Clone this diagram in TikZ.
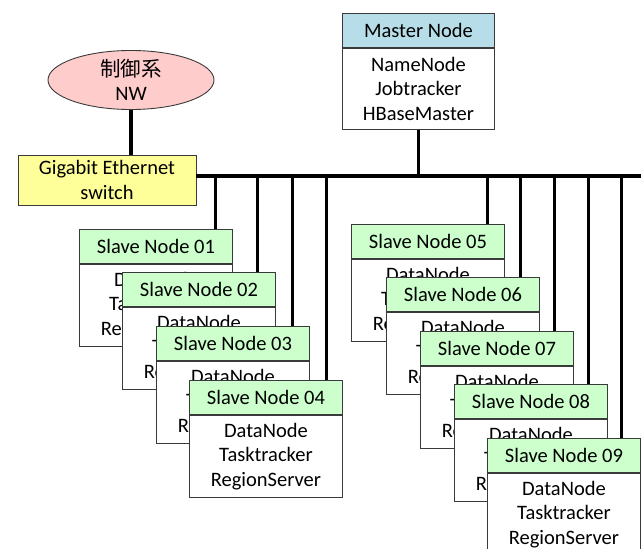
\documentclass[tikz,border=0pt]{standalone}
\usepackage{fontspec}
\setmainfont{Carlito}
\newfontfamily\cjk{Noto Sans CJK JP}
\usetikzlibrary{shapes.geometric}
\definecolor{hdrgreen}{HTML}{CCFFCC}
\definecolor{hdrblue}{HTML}{B7DEE8}
\definecolor{swyellow}{HTML}{FFFF99}
\definecolor{nwpink}{HTML}{FFCCCC}
\definecolor{edgegray}{HTML}{3A3A3A}
\tikzset{
  txt/.style={font=\fontsize{20.5}{24.5}\selectfont},
  boxline/.style={draw=edgegray, line width=0.9pt},
  hdr/.style={txt, boxline, rectangle, minimum width=153pt, minimum height=34pt, inner sep=0pt, anchor=north west},
  slavehdr/.style={hdr, fill=hdrgreen},
  masterhdr/.style={hdr, fill=hdrblue, minimum width=152pt},
  bodybox/.style={txt, boxline, fill=white, rectangle, minimum width=153pt, minimum height=82pt, inner sep=0pt, align=center, anchor=north west},
  busline/.style={line width=4pt, black},
  dropline/.style={line width=3pt, black},
}
\newcommand\slavenode[4]{%
  \node[slavehdr] (#1h) at (#3,#4) {#2};
  \node[bodybox] (#1b) at (#1h.south west) {DataNode\\Tasktracker\\RegionServer};
}
\begin{document}
\begin{tikzpicture}[x=1pt,y=-1pt]
\useasboundingbox (0,0) rectangle (641,549);
\clip (0,0) rectangle (641,549);

% control network and switch
\node[txt, ellipse, boxline, fill=nwpink, minimum width=166pt, minimum height=53pt, inner sep=0pt, align=center] (nw) at (131,80) {{\cjk 制御系}\\NW};
\node[txt, rectangle, boxline, fill=swyellow, minimum width=178pt, minimum height=50pt, inner sep=0pt, align=center] (sw) at (107,180) {Gigabit Ethernet\\switch};

% master node
\node[masterhdr] (mh) at (342,13) {Master Node};
\node[bodybox, minimum width=152pt, minimum height=81pt] (mb) at (mh.south west) {NameNode\\Jobtracker\\HBaseMaster};

% bus
\coordinate (busE) at (641,176);
\draw[busline] (nw.south) -- (nw.south |- sw.north);
\draw[busline] (sw.east |- busE) -- (busE);
\draw[dropline] (mb.south) -- (mb.south |- busE);

% slave nodes
\slavenode{s1}{Slave Node 01}{79}{229}
\slavenode{s2}{Slave Node 02}{122}{272}
\slavenode{s3}{Slave Node 03}{156}{326}
\slavenode{s4}{Slave Node 04}{189}{380}
\slavenode{s5}{Slave Node 05}{351}{224}
\slavenode{s6}{Slave Node 06}{386}{277}
\slavenode{s7}{Slave Node 07}{420}{331}
\slavenode{s8}{Slave Node 08}{454}{384}
\slavenode{s9}{Slave Node 09}{487}{438}

% drops from bus to slave nodes
\coordinate (d1) at (215,176);
\coordinate (d2) at (257,176);
\coordinate (d3) at (292,176);
\coordinate (d4) at (326,176);
\coordinate (d5) at (487,176);
\coordinate (d6) at (520,176);
\coordinate (d7) at (554,176);
\coordinate (d8) at (588,176);
\coordinate (d9) at (621,176);
\foreach \i in {1,...,9} {
  \draw[dropline] (d\i) -- (d\i |- s\i h.north);
}
\end{tikzpicture}
\end{document}
